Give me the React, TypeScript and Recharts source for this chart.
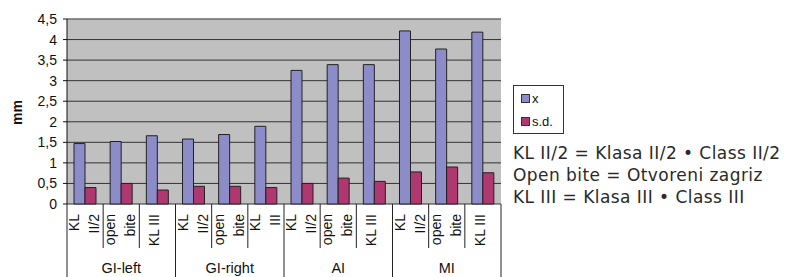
import React from 'react';
import {
  BarChart,
  Bar,
  XAxis,
  YAxis,
  CartesianGrid,
  Legend,
  ReferenceLine,
} from 'recharts';

// groups and the three sub-categories of each one
const groups = ['GI-left', 'GI-right', 'AI', 'MI'];
const catLabels = [
  'KL\nII/2', 'open\nbite', 'KL III',
  'KL\nII/2', 'open\nbite', 'KL\nIII',
  'KL\nII/2', 'open\nbite', 'KL III',
  'KL\nII/2', 'open\nbite', 'KL III',
];
const xValues = [1.47, 1.52, 1.66, 1.58, 1.69, 1.89, 3.25, 3.39, 3.39, 4.21, 3.77, 4.18];
const sdValues = [0.4, 0.5, 0.34, 0.43, 0.43, 0.4, 0.5, 0.63, 0.55, 0.78, 0.9, 0.76];
const yTicks = [0, 0.5, 1, 1.5, 2, 2.5, 3, 3.5, 4, 4.5];
const notes = [
  'KL II/2 = Klasa II/2 • Class II/2',
  'Open bite = Otvoreni zagriz',
  'KL III = Klasa III • Class III',
];

const data = catLabels.map((label, i) => ({
  key: `c${i}`,
  label,
  group: groups[Math.floor(i / 3)],
  x: xValues[i],
  sd: sdValues[i],
}));

const W = 790;
const H = 277;
const M = { top: 19, right: 289, bottom: 0, left: 0 };
const Y_W = 67;
const BAND = (W - M.left - M.right - Y_W) / data.length;

const BLUE = '#8c8cc8';
const MAGENTA = '#b03870';

const CatTick = (props: any) => {
  const { x, y, index } = props;
  const lines = data[index].label.split('\n');
  const left = x - BAND / 2;
  return (
    <g>
      <line x1={left} y1={y} x2={left} y2={index % 3 === 0 ? H : y + 44} stroke="#222" />
      {index === data.length - 1 && (
        <line x1={x + BAND / 2} y1={y} x2={x + BAND / 2} y2={H} stroke="#222" />
      )}
      {lines.map((t: string, i: number) => {
        const lx = lines.length === 1 ? x - 3 : x - 1 + (i === 0 ? -10 : 10);
        return (
          <text
            key={i}
            x={lx}
            y={y + 10}
            transform={`rotate(-90 ${lx} ${y + 10})`}
            textAnchor="end"
            dominantBaseline="central"
            fontSize={14}
            fill="#111"
          >
            {t}
          </text>
        );
      })}
    </g>
  );
};

const GroupTick = (props: any) => {
  const { x, y, index } = props;
  if (index % 3 !== 1) return <g />;
  return (
    <text x={x} y={y + 20} textAnchor="middle" dominantBaseline="central" fontSize={14.5} fill="#111">
      {data[index].group}
    </text>
  );
};

const LegendBox = () => (
  <div style={{ fontFamily: 'Liberation Sans, Arial, sans-serif', textAlign: 'left' }}>
    <div
      style={{
        width: 49,
        height: 46,
        border: '1px solid #333',
        background: '#fff',
        boxSizing: 'content-box',
        fontSize: 13,
        color: '#111',
        paddingTop: 1,
      }}
    >
      {[
        { name: 'x', color: BLUE },
        { name: 's.d.', color: MAGENTA },
      ].map((it) => (
        <div key={it.name} style={{ display: 'flex', alignItems: 'center', height: 23, paddingLeft: 7 }}>
          <span
            style={{
              display: 'inline-block',
              width: 7,
              height: 7,
              background: it.color,
              border: '1px solid #333',
              marginRight: 2,
            }}
          />
          {it.name}
        </div>
      ))}
    </div>
    <div
      style={{
        marginTop: 8,
        fontFamily: 'DejaVu Sans, sans-serif',
        fontSize: 17,
        letterSpacing: 0.45,
        lineHeight: '22px',
        color: '#2a2a2a',
        whiteSpace: 'nowrap',
      }}
    >
      {notes.map((n) => (
        <div key={n}>{n}</div>
      ))}
    </div>
  </div>
);

export default function App() {
  return (
    <div style={{ position: 'absolute', left: 0, top: 0, width: W, height: H, background: '#fff', fontFamily: 'Liberation Sans, Arial, sans-serif' }}>
      <BarChart width={W} height={H} data={data} margin={M} barCategoryGap={7} barGap={0}>
        <CartesianGrid vertical={false} stroke="#333" fill="#c0c0c0" fillOpacity={1} />
        <XAxis
          dataKey="key"
          height={44}
          interval={0}
          axisLine={false}
          tickLine={false}
          tickSize={0}
          tickMargin={0}
          tick={<CatTick />}
        />
        <XAxis
          xAxisId="group"
          dataKey="key"
          height={29}
          interval={0}
          axisLine={false}
          tickLine={false}
          tickSize={0}
          tickMargin={0}
          tick={<GroupTick />}
        />
        <YAxis
          width={Y_W}
          domain={[0, 4.5]}
          ticks={yTicks}
          interval={0}
          tickSize={4}
          tickMargin={6}
          axisLine={{ stroke: '#111' }}
          tickLine={{ stroke: '#111' }}
          tick={{ fill: '#111', fontSize: 14 }}
          tickFormatter={(v: number) => String(v).replace('.', ',')}
          label={({ viewBox }: any) => {
            const cy = viewBox.y + viewBox.height / 2 + 1;
            return (
              <text
                x={17}
                y={cy}
                transform={`rotate(-90 17 ${cy})`}
                textAnchor="middle"
                dominantBaseline="central"
                fontSize={14}
                fontWeight="bold"
                fill="#111"
              >
                mm
              </text>
            );
          }}
        />
        <YAxis
          yAxisId="r"
          orientation="right"
          width={0}
          domain={[0, 4.5]}
          tick={false}
          tickLine={false}
          axisLine={{ stroke: '#888' }}
        />
        <ReferenceLine y={4.5} stroke="#888" />
        <Bar dataKey="x" name="x" fill={BLUE} stroke="#222" strokeWidth={1} isAnimationActive={false} />
        <Bar dataKey="sd" name="s.d." fill={MAGENTA} stroke="#222" strokeWidth={1} isAnimationActive={false} />
        <Legend
          layout="horizontal"
          align="center"
          verticalAlign="middle"
          content={<LegendBox />}
          wrapperStyle={{ left: 513, top: 85, right: 'auto', width: 277 }}
        />
      </BarChart>
    </div>
  );
}
